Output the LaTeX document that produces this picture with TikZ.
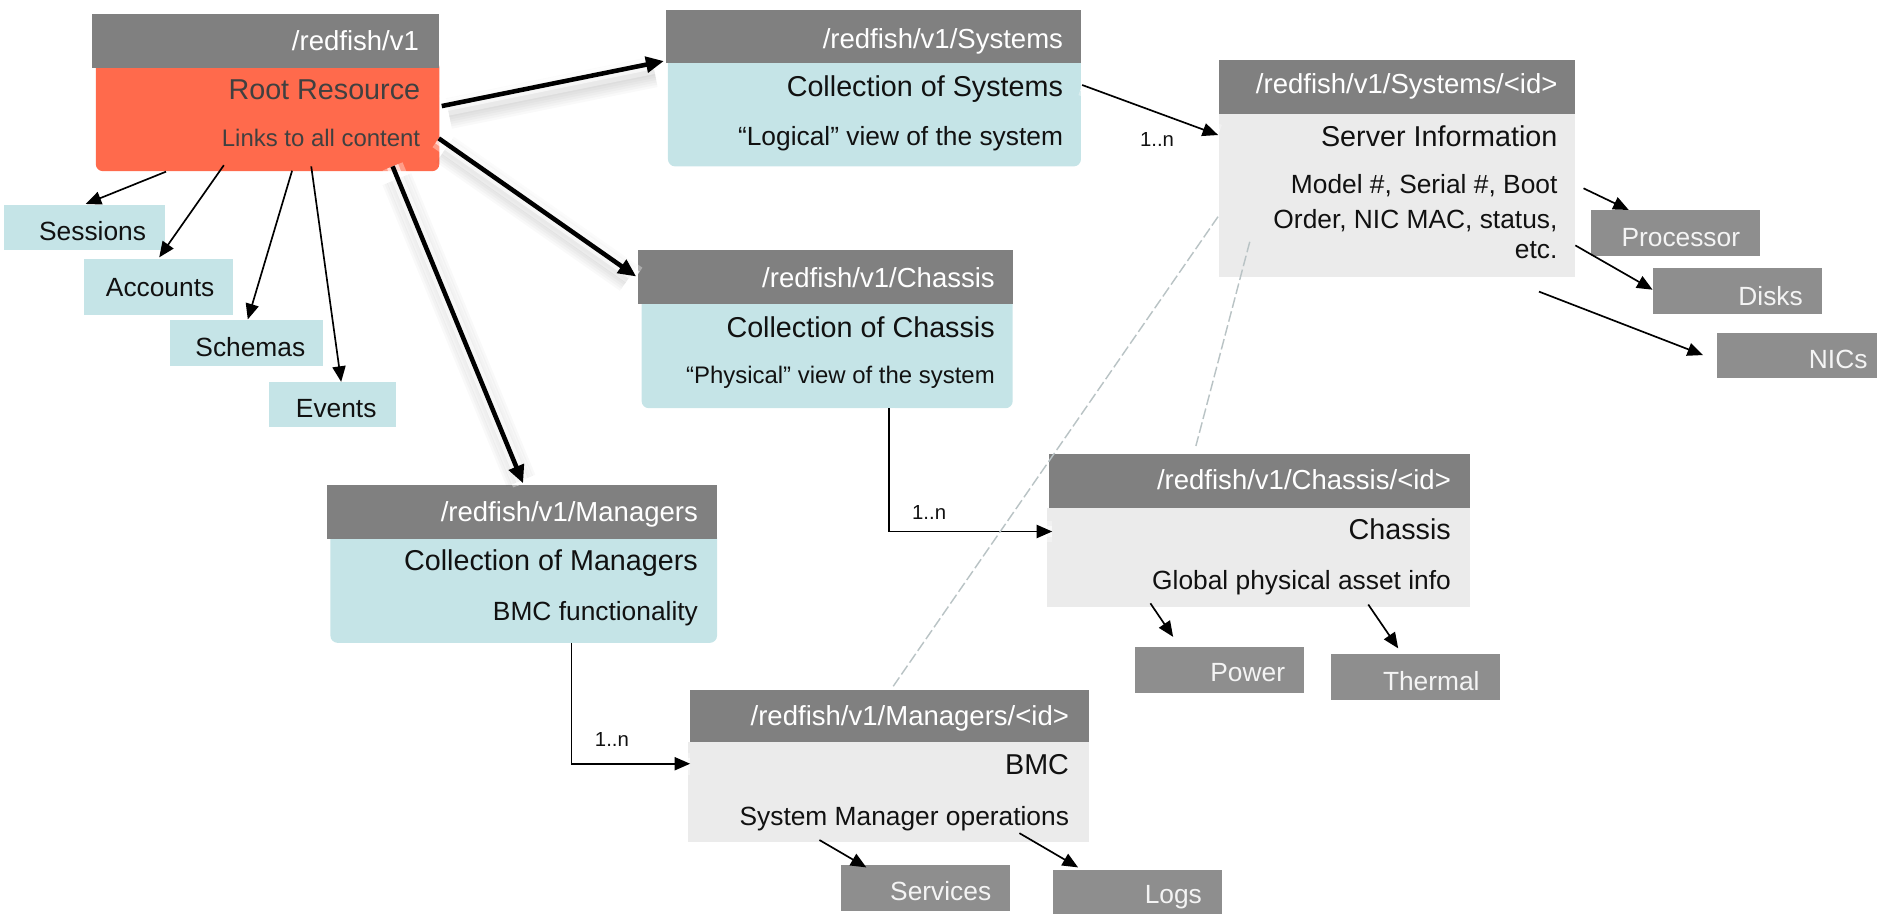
\documentclass[tikz,border=0pt]{standalone}
\usepackage{fontspec}
\setmainfont{Liberation Sans}
\usetikzlibrary{arrows.meta}
\definecolor{hdrgray}{HTML}{808080}
\definecolor{boxgray}{HTML}{8E8E8E}
\definecolor{lblue}{HTML}{C5E4E7}
\definecolor{lgray}{HTML}{EBEBEB}
\definecolor{rootred}{HTML}{FF6A4C}
\definecolor{roottxt}{HTML}{404040}
\definecolor{txtblack}{HTML}{111111}
\definecolor{dashc}{HTML}{B9C3C5}
\definecolor{smalltxt}{HTML}{F4F4F4}
\tikzset{
  bx/.style={inner sep=0pt, outer sep=0pt, draw=none, anchor=north west},
  hdr/.style={bx, fill=hdrgray},
  bodyb/.style={bx, fill=lblue, rounded corners=6pt},
  bodyr/.style={bx, fill=rootred, rounded corners=6pt},
  bodyg/.style={bx, fill=lgray},
  sblue/.style={bx, fill=lblue},
  sgray/.style={bx, fill=boxgray},
  tx/.style={inner sep=0pt, outer sep=0pt, anchor=base east},
  hdrtxt/.style={tx, text=white, font=\fontsize{23}{27}\selectfont},
  ttl/.style={tx, text=txtblack, font=\fontsize{24}{28}\selectfont},
  dsc/.style={tx, text=txtblack, font=\fontsize{22}{26}\selectfont},
  sbtxt/.style={tx, text=txtblack, font=\fontsize{22}{26}\selectfont},
  sgtxt/.style={tx, text=smalltxt, font=\fontsize{22}{26}\selectfont},
  card/.style={tx, anchor=base west, text=txtblack, font=\fontsize{17}{20}\selectfont},
  thinarrow/.style={draw=black, line width=1.4pt, -{Triangle[length=13pt,width=11pt]}},
  thickarrow/.style={draw=black, line width=3.8pt, -{Triangle[length=15pt,width=13pt]}},
  glow/.style={preaction={draw=white, line width=18pt, opacity=0.35, arrows=-},
               preaction={draw=white, line width=10pt, opacity=0.6, arrows=-}},
  dashline/.style={draw=dashc, line width=1.2pt, dash pattern=on 9pt off 3pt},
}
\begin{document}
\begin{tikzpicture}[x=1pt,y=-1pt]
\useasboundingbox (0,0) rectangle (1568,763);

% ---------- boxes ----------
% Root
\node[bodyr, minimum width=287pt, minimum height=93pt] (rootB) at (80,50) {};
\node[hdr, minimum width=290pt, minimum height=45pt] (rootH) at (77,12) {};
\node[hdrtxt] (rootHt) at (350,42.3) {/redfish/v1};
\node[tx, text=roottxt, font=\fontsize{24}{28}\selectfont] (rootT) at (351,83.5) {Root Resource};
\node[tx, text=roottxt, font=\fontsize{20}{24}\selectfont] (rootD) at (351,122.5) {Links to all content};

% Systems
\node[bodyb, minimum width=345pt, minimum height=93pt] (sysB) at (558,46) {};
\node[hdr, minimum width=347pt, minimum height=45pt] (sysH) at (556,8) {};
\node[hdrtxt] (sysHt) at (888,40.4) {/redfish/v1/Systems};
\node[ttl] (sysT) at (888,80.8) {Collection of Systems};
\node[dsc] (sysD) at (888,121.7) {“Logical” view of the system};

% Chassis
\node[bodyb, minimum width=310pt, minimum height=94pt] (chB) at (536,247) {};
\node[hdr, minimum width=313pt, minimum height=45pt] (chH) at (533,209) {};
\node[hdrtxt] (chHt) at (831,240) {/redfish/v1/Chassis};
\node[ttl] (chT) at (831,281.8) {Collection of Chassis};
\node[tx, text=txtblack, font=\fontsize{20}{24}\selectfont] (chD) at (831,320.2) {“Physical” view of the system};

% Managers
\node[bodyb, minimum width=323pt, minimum height=94pt] (mgB) at (276,443) {};
\node[hdr, minimum width=326pt, minimum height=45pt] (mgH) at (273,405) {};
\node[hdrtxt] (mgHt) at (583,435.8) {/redfish/v1/Managers};
\node[ttl] (mgT) at (583,476.2) {Collection of Managers};
\node[dsc] (mgD) at (583,518) {BMC functionality};

% Systems/<id>
\node[bodyg, minimum width=298pt, minimum height=136pt] (sidB) at (1018,95) {};
\node[hdr, minimum width=298pt, minimum height=45pt] (sidH) at (1018,50) {};
\node[hdrtxt] (sidHt) at (1301,78) {/redfish/v1/Systems/<id>};
\node[ttl] (sidT) at (1301,122.5) {Server Information};
\node[dsc] (sidD1) at (1301,162) {Model \#, Serial \#, Boot};
\node[dsc] (sidD2) at (1301,190.7) {Order, NIC MAC, status,};
\node[dsc] (sidD3) at (1301,215.8) {etc.};

% Chassis/<id>
\node[bodyg, minimum width=353pt, minimum height=83pt] (cidB) at (875,424) {};
\node[hdr, minimum width=352pt, minimum height=45pt] (cidH) at (876,379) {};
\node[hdrtxt] (cidHt) at (1212,409.3) {/redfish/v1/Chassis/<id>};
\node[ttl] (cidT) at (1212,451) {Chassis};
\node[dsc] (cidD) at (1212,492.3) {Global physical asset info};

% Managers/<id>
\node[bodyg, minimum width=335pt, minimum height=83pt] (midB) at (575,620) {};
\node[hdr, minimum width=334pt, minimum height=44pt] (midH) at (576,576) {};
\node[hdrtxt] (midHt) at (893,605.7) {/redfish/v1/Managers/<id>};
\node[ttl] (midT) at (893,647.4) {BMC};
\node[dsc] (midD) at (893,689.2) {System Manager operations};

% small blue boxes
\node[sblue, minimum width=135pt, minimum height=38pt] (sess) at (3,171) {};
\node[sbtxt] (sesst) at (122,201) {Sessions};
\node[sblue, minimum width=125pt, minimum height=47pt] (acc) at (70,216) {};
\node[sbtxt] (acct) at (179,247.3) {Accounts};
\node[sblue, minimum width=128pt, minimum height=38.5pt] (sch) at (142,267) {};
\node[sbtxt] (scht) at (255,298) {Schemas};
\node[sblue, minimum width=106pt, minimum height=38pt] (evt) at (225,319) {};
\node[sbtxt] (evtt) at (314.5,348.6) {Events};

% small gray boxes
\node[sgray, minimum width=141pt, minimum height=38.5pt] (proc) at (1329,175.5) {};
\node[sgtxt] (proct) at (1453.6,206) {Processor};
\node[sgray, minimum width=141.5pt, minimum height=38pt] (disk) at (1380.5,224) {};
\node[sgtxt] (diskt) at (1506,254.8) {Disks};
\node[sgray, minimum width=134pt, minimum height=38pt] (nic) at (1434,278) {};
\node[sgtxt] (nict) at (1560,307.7) {NICs};
\node[sgray, minimum width=141pt, minimum height=38pt] (pow) at (948,540.6) {};
\node[sgtxt] (powt) at (1073.5,569.5) {Power};
\node[sgray, minimum width=141pt, minimum height=39pt] (thm) at (1112,546) {};
\node[sgtxt] (thmt) at (1236,576.4) {Thermal};
\node[sgray, minimum width=141.5pt, minimum height=38.3pt] (svc) at (702.5,722.7) {};
\node[sgtxt] (svct) at (828,752.4) {Services};
\node[sgray, minimum width=141pt, minimum height=40pt] (logs) at (880,727) {};
\node[sgtxt] (logst) at (1004,754.5) {Logs};

% ---------- connector end points ----------
\coordinate (a1s) at (369,88.6);   \coordinate (a1e) at (554.6,51);
\coordinate (a2s) at (366.5,115.6); \coordinate (a2e) at (531.5,231);
\coordinate (a3s) at (328,139);    \coordinate (a3e) at (437,403.8);
\coordinate (r1s) at (138.7,143.4); \coordinate (r1e) at (71.6,170.4);
\coordinate (r2s) at (187,138);    \coordinate (r2e) at (133,215);
\coordinate (r3s) at (244,142.6);  \coordinate (r3e) at (207,266.8);
\coordinate (r4s) at (260,139);    \coordinate (r4e) at (285,319);
\coordinate (s1s) at (904,71);     \coordinate (s1e) at (1017.6,112.8);
\coordinate (c1s) at (742.5,341);  \coordinate (c1e) at (879,444);
\coordinate (m1s) at (477.4,537);  \coordinate (m1e) at (576.5,638);
\coordinate (p1s) at (1322.8,157.3); \coordinate (p1e) at (1360.6,175.4);
\coordinate (p2s) at (1316,205);   \coordinate (p2e) at (1380.5,242);
\coordinate (p3s) at (1285.6,243.6); \coordinate (p3e) at (1422.7,296.6);
\coordinate (q1s) at (961,504);    \coordinate (q1e) at (980,532);
\coordinate (q2s) at (1143,505);   \coordinate (q2e) at (1168,541.6);
\coordinate (t1s) at (684.5,701.7); \coordinate (t1e) at (723.7,724.6);
\coordinate (t2s) at (851.6,696);  \coordinate (t2e) at (900.6,724.6);
\coordinate (d1s) at (1017.5,181); \coordinate (d1e) at (745,575);
\coordinate (d2s) at (1044,202);   \coordinate (d2e) at (999,372.6);

% ---------- thick arrows: soft shadow ----------
\foreach \s/\e in {a1s/a1e, a2s/a2e, a3s/a3e}{
  \foreach \w in {26,22,18,14,10,6}{
    \draw[draw=black, opacity=0.022, line width=\w pt, shorten >=10pt, shorten <=4pt]
      ([shift={(2,7)}]\s) -- ([shift={(2,7)}]\e);
  }
}

% ---------- connectors ----------
\draw[thickarrow, glow] (a1s) -- (a1e);
\draw[thickarrow, glow] (a2s) -- (a2e);
\draw[thickarrow, glow] (a3s) -- (a3e);

\draw[thinarrow] (r1s) -- (r1e);
\draw[thinarrow] (r2s) -- (r2e);
\draw[thinarrow] (r3s) -- (r3e);
\draw[thinarrow] (r4s) -- (r4e);

\draw[thinarrow, glow] (s1s) -- (s1e);
\draw[thinarrow, glow] (c1s) |- (c1e);
\draw[thinarrow, glow] (m1s) |- (m1e);

\draw[thinarrow] (p1s) -- (p1e);
\draw[thinarrow] (p2s) -- (p2e);
\draw[thinarrow] (p3s) -- (p3e);
\draw[thinarrow] (q1s) -- (q1e);
\draw[thinarrow] (q2s) -- (q2e);
\draw[thinarrow] (t1s) -- (t1e);
\draw[thinarrow] (t2s) -- (t2e);

\draw[dashline] (d1s) -- (d1e);
\draw[dashline] (d2s) -- (d2e);

% multiplicity labels
\node[card] (n1) at (952.4,122) {1..n};
\node[card] (n2) at (762,433.6) {1..n};
\node[card] (n3) at (497,623.8) {1..n};
\end{tikzpicture}
\end{document}
